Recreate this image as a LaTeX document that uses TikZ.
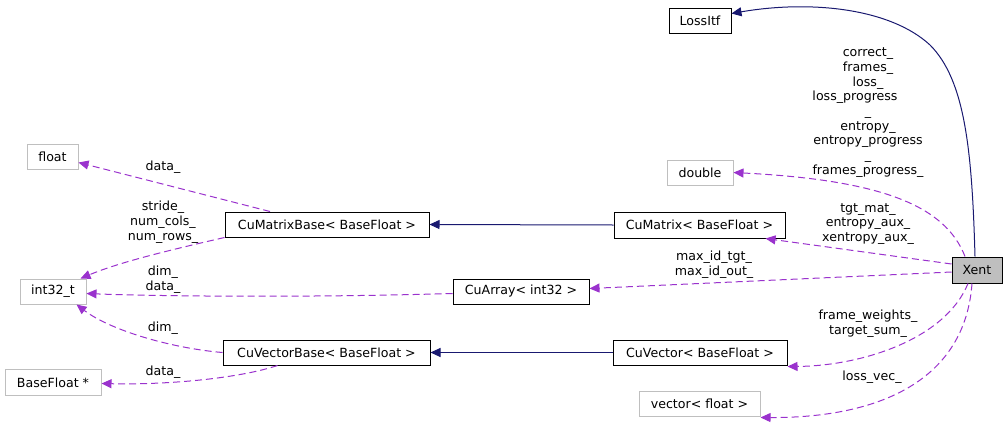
\documentclass[tikz,border=0pt]{standalone}
\usepackage{fontspec}
\setmainfont{DejaVu Sans}
\usetikzlibrary{arrows.meta}
\definecolor{edgepurple}{HTML}{9A32CD}
\definecolor{edgenavy}{HTML}{191970}
\definecolor{boxgray}{HTML}{BFBFBF}
\begin{document}
\begin{tikzpicture}[x=1pt,y=-1pt,
  font=\fontsize{12.6}{14.7}\selectfont,
  cls/.style={draw=black, line width=1pt, minimum height=25pt, inner sep=0pt, anchor=center},
  ext/.style={draw=boxgray, line width=1pt, minimum height=25pt, inner sep=0pt, anchor=center},
  cur/.style={draw=black, fill=boxgray, line width=1pt, minimum height=25pt, inner sep=0pt, anchor=center},
  inh/.style={draw=edgenavy, line width=1pt, -{Triangle[length=10pt,width=9pt,fill=edgenavy]}},
  use/.style={draw=edgepurple, line width=1pt, dash pattern=on 7pt off 4pt, -{Triangle[length=10pt,width=9pt,fill=edgepurple]}},
  lbl/.style={align=center, inner sep=0pt, anchor=center}
]
\useasboundingbox (0,0) rectangle (1008,423);

% nodes
\node[cls, minimum width=62pt] (lossitf) at (700,20.5) {LossItf};
\node[cur, minimum width=50pt, minimum height=26pt] (xent) at (977,270) {Xent};
\node[ext, minimum width=66pt] (double) at (700,172.5) {double};
\node[cls, minimum width=171pt, minimum height=26pt] (cumatrix) at (699.5,225) {CuMatrix< BaseFloat >};
\node[cls, minimum width=204pt] (cumatrixbase) at (327,224.5) {CuMatrixBase< BaseFloat >};
\node[ext, minimum width=51pt] (float) at (52.5,156.5) {float};
\node[ext, minimum width=66pt] (int32) at (53,291.5) {int32\_t};
\node[cls, minimum width=136pt] (cuarray) at (521,291.5) {CuArray< int32 >};
\node[cls, minimum width=207pt] (cuvectorbase) at (326.5,352.5) {CuVectorBase< BaseFloat >};
\node[cls, minimum width=174pt] (cuvector) at (700,352.5) {CuVector< BaseFloat >};
\node[ext, minimum width=96pt, minimum height=26pt] (basefloatptr) at (53,382.5) {BaseFloat *};
\node[ext, minimum width=121pt] (vectorfloat) at (699.5,403.5) {vector< float >};

% inheritance
\draw[inh] ([xshift=-2pt]xent.north) .. controls (972,150) and (965,80) .. (930,45)
  .. controls (890,8) and (810,0) .. ([yshift=7pt]lossitf.east);
\draw[inh] (cumatrix.west) -- (cumatrixbase.east);
\draw[inh] (cuvector.west) -- (cuvectorbase.east);

% usage
\draw[use] ([xshift=-12pt]xent.north) .. controls (945,205) and (880,180) .. (double.east);
\draw[use] ([yshift=6pt]xent.west) -- ([xshift=-20pt]cumatrix.south east);
\draw[use] ([yshift=-2pt]xent.west) -- ([yshift=3pt]cuarray.east);
\draw[use] ([xshift=-9pt]xent.south) .. controls (945,340) and (860,366) .. ([yshift=-1pt]cuvector.south east);
\draw[use] ([xshift=-5pt]xent.south) .. controls (965,380) and (880,418) .. ([yshift=-1pt]vectorfloat.south east);

\draw[use] ([xshift=-57pt]cumatrixbase.north) -- ([yshift=-6pt]float.east);
\draw[use] (cumatrixbase.south west) .. controls (170,250) and (120,262) .. ([xshift=-6pt]int32.north east);
\draw[use] ([yshift=-2pt]cuarray.west) .. controls (300,298) and (150,296) .. ([yshift=-2pt]int32.east);
\draw[use] (cuvectorbase.west) .. controls (170,348) and (110,330) .. ([xshift=-10pt]int32.south east);
\draw[use] ([xshift=-49pt]cuvectorbase.south) .. controls (240,378) and (170,385) .. ([yshift=-1pt]basefloatptr.east);

% labels
\node[lbl] (l1) at (868,112.5) {correct\_\\frames\_\\loss\_\\loss\_progress\rule{26pt}{0pt}\\\_\\entropy\_\\entropy\_progress\\\_\\frames\_progress\_};
\node[lbl] (l2) at (868,224) {tgt\_mat\_\\entropy\_aux\_\\xentropy\_aux\_};
\node[lbl] (l3) at (714,264.5) {max\_id\_tgt\_\\max\_id\_out\_};
\node[lbl] (l4) at (868,323.5) {frame\_weights\_\\target\_sum\_};
\node[lbl] (l5) at (872,377.5) {loss\_vec\_};
\node[lbl] (l6) at (163,167) {data\_};
\node[lbl] (l7) at (163,222) {stride\_\\num\_cols\_\\num\_rows\_};
\node[lbl] (l8) at (163,279.5) {dim\_\\data\_};
\node[lbl] (l9) at (163,328) {dim\_};
\node[lbl] (l10) at (163,372) {data\_};
\end{tikzpicture}
\end{document}
